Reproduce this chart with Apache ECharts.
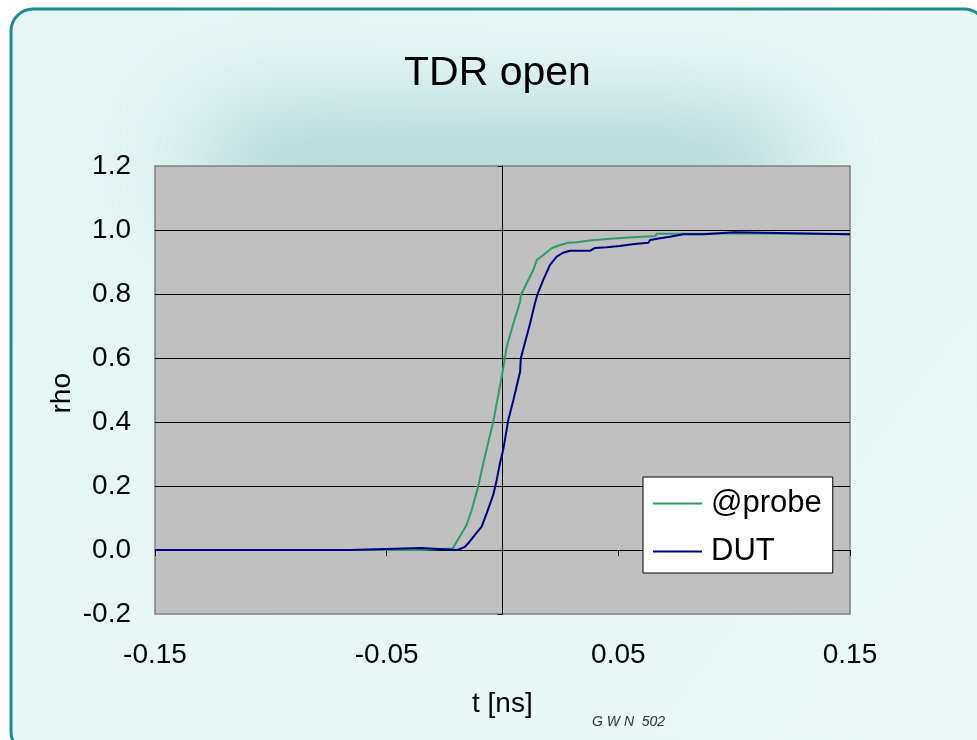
<!DOCTYPE html>
<html>
<head>
<meta charset="utf-8">
<script src="https://cdn.jsdelivr.net/npm/echarts@6/dist/echarts.min.js"></script>
<style>
  html, body { margin: 0; padding: 0; background: #ffffff; }
  #chart { width: 977px; height: 740px; }
</style>
</head>
<body>
<div id="chart"></div>
<script>
// tick positions
const xTicks = [-0.15, -0.05, 0.05, 0.15]
const yTicks = [-0.2, 0, 0.2, 0.4, 0.6, 0.8, 1.0, 1.2]

// @probe (green) trace
const probeT = [-0.15, -0.0350, -0.0345, -0.0215, -0.0155, -0.0133, -0.0105, -0.0083, -0.0040, -0.0003,
  0.0018, 0.0047, 0.0076, 0.0079, 0.0133, 0.0148, 0.0176, 0.0212, 0.0248, 0.0270,
  0.0280, 0.0320, 0.0325, 0.0385, 0.0390, 0.0510, 0.0515, 0.0660, 0.0666, 0.0870,
  0.0875, 0.1000, 0.1005, 0.15]
const probeRho = [0, 0, 0.005, 0.005, 0.078, 0.125, 0.198, 0.271, 0.401, 0.542,
  0.635, 0.708, 0.776, 0.797, 0.875, 0.906, 0.922, 0.943, 0.953, 0.957,
  0.960, 0.962, 0.967, 0.968, 0.973, 0.975, 0.981, 0.981, 0.988, 0.988,
  0.990, 0.990, 0.987, 0.987]

// DUT (navy) trace
const dutT = [-0.15, -0.0660, -0.0655, -0.0350, -0.0345, -0.0195, -0.0162, -0.0148, -0.0119, -0.0090,
  -0.0068, -0.0040, -0.0025, -0.0011, 0.0003, 0.0025, 0.0047, 0.0076, 0.0079, 0.0119,
  0.0140, 0.0150, 0.0176, 0.0205, 0.0234, 0.0262, 0.0291, 0.0378, 0.0385, 0.0399,
  0.0450, 0.0455, 0.0505, 0.0510, 0.0570, 0.0575, 0.0630, 0.0637, 0.0680, 0.0723,
  0.0780, 0.0870, 0.0875, 0.1000, 0.1005, 0.15]
const dutRho = [0, 0, 0.006, 0.006, 0, 0, 0.010, 0.021, 0.047, 0.073,
  0.115, 0.172, 0.219, 0.271, 0.313, 0.406, 0.469, 0.557, 0.599, 0.708,
  0.771, 0.797, 0.844, 0.891, 0.917, 0.929, 0.935, 0.935, 0.940, 0.944,
  0.946, 0.950, 0.950, 0.956, 0.956, 0.960, 0.960, 0.969, 0.974, 0.979,
  0.987, 0.987, 0.993, 0.993, 0.987, 0.987]

const pairs = (xs, ys) => xs.map((x, i) => [x, ys[i]])

const chart = echarts.init(document.getElementById('chart'))
const font = 'Liberation Sans, Arial, sans-serif'

chart.setOption({
  animation: false,
  backgroundColor: '#ffffff',
  textStyle: { fontFamily: font },
  graphic: [
    {
      type: 'rect', z: -10, silent: true,
      shape: { x: 11, y: 9, width: 975, height: 745, r: 22 },
      style: {
        fill: new echarts.graphic.LinearGradient(0, 0, 1, 1, [
          { offset: 0, color: '#e4f5f4' },
          { offset: 1, color: '#ebf8f7' }
        ]),
        stroke: '#1f8a8b', lineWidth: 3
      }
    },
    {
      // soft glow behind the title: the rect sits off-canvas, only its blurred shadow shows
      type: 'rect', z: -9, silent: true,
      shape: { x: 200, y: 125 - 2000, width: 600, height: 85, r: 40 },
      style: {
        fill: '#9cc8cb',
        shadowBlur: 110,
        shadowOffsetY: 2000,
        shadowColor: 'rgba(140,190,195,0.85)'
      }
    },
    {
      type: 'text', left: 48, top: 373, rotation: Math.PI / 2,
      style: { text: 'rho', fill: '#000', font: '28px ' + font }
    },
    {
      type: 'text', left: 472, top: 690,
      style: { text: 't [ns]', fill: '#000', font: '28px ' + font }
    },
    {
      type: 'text', left: 592, top: 715,
      style: { text: 'G W N  502', fill: '#333', font: 'italic 14px ' + font }
    }
  ],
  title: {
    text: 'TDR open',
    left: 399,
    top: 48,
    textStyle: { fontSize: 41, fontWeight: 'normal', color: '#000', fontFamily: font }
  },
  legend: {
    left: 643,
    top: 477,
    orient: 'vertical',
    backgroundColor: '#ffffff',
    borderColor: '#000000',
    borderWidth: 1,
    borderRadius: 0,
    padding: [11, 11, 6, 10],
    itemGap: 17,
    itemWidth: 49,
    itemHeight: 2,
    icon: 'rect',
    textStyle: { fontSize: 31, color: '#000', padding: [0, 0, 0, 4], fontFamily: font },
    data: ['@probe', 'DUT']
  },
  grid: {
    left: 155, right: 127, top: 166, bottom: 126,
    show: true,
    backgroundColor: '#c0c0c0',
    borderColor: '#808080',
    borderWidth: 1.5
  },
  xAxis: [
    {
      type: 'value', min: xTicks[0], max: xTicks[xTicks.length - 1], interval: 0.1,
      position: 'bottom',
      axisLine: { show: false },
      axisTick: { show: false },
      splitLine: { show: false },
      axisLabel: {
        fontSize: 28, color: '#000', margin: 27,
        formatter: v => v.toFixed(2)
      }
    },
    {
      type: 'value', min: xTicks[0], max: xTicks[xTicks.length - 1], interval: 0.1,
      position: 'bottom',
      axisLine: { show: true, onZero: true, lineStyle: { color: '#000', width: 1 } },
      axisTick: { show: true, length: 6, lineStyle: { color: '#000' } },
      splitLine: { show: false },
      axisLabel: { show: false }
    }
  ],
  yAxis: [
    {
      type: 'value', min: yTicks[0], max: yTicks[yTicks.length - 1], interval: 0.2,
      axisLine: { show: false },
      axisTick: { show: false },
      splitLine: { show: true, showMinLine: false, showMaxLine: false, lineStyle: { color: '#000', width: 1 } },
      axisLabel: {
        fontSize: 28, color: '#000', margin: 24,
        formatter: v => v.toFixed(1)
      }
    },
    {
      type: 'value', min: yTicks[0], max: yTicks[yTicks.length - 1], interval: 0.2,
      position: 'left',
      axisLine: { show: true, onZero: true, lineStyle: { color: '#000', width: 1 } },
      axisTick: { show: true, length: 5, lineStyle: { color: '#000' } },
      splitLine: { show: false },
      axisLabel: { show: false }
    }
  ],
  series: [
    {
      name: '@probe', type: 'line', xAxisIndex: 0, yAxisIndex: 0,
      data: pairs(probeT, probeRho),
      showSymbol: false, symbol: 'none',
      color: '#339966',
      lineStyle: { color: '#339966', width: 2 }
    },
    {
      name: 'DUT', type: 'line', xAxisIndex: 0, yAxisIndex: 0,
      data: pairs(dutT, dutRho),
      showSymbol: false, symbol: 'none',
      color: '#000080',
      lineStyle: { color: '#000080', width: 2 }
    }
  ]
})
</script>
</body>
</html>
